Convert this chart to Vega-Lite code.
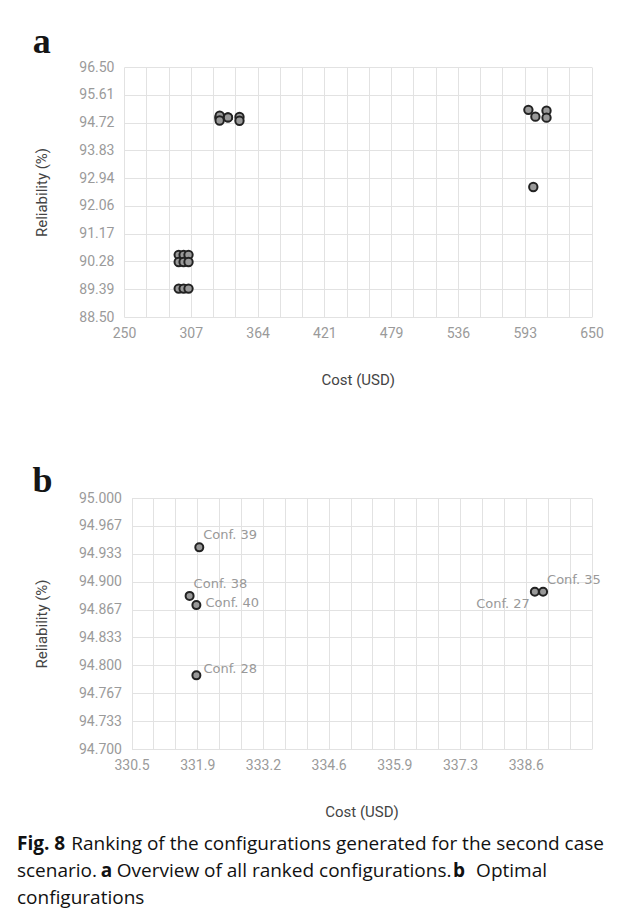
{
  "$schema": "https://vega.github.io/schema/vega-lite/v6.json",
  "background": "white",
  "padding": {"left": 16, "top": 24, "right": 5, "bottom": 5},
  "datasets": {
    "all": [
      {"cost": 296.8, "reliability": 90.49},
      {"cost": 301.0, "reliability": 90.49},
      {"cost": 305.2, "reliability": 90.49},
      {"cost": 296.8, "reliability": 90.26},
      {"cost": 301.0, "reliability": 90.26},
      {"cost": 305.2, "reliability": 90.26},
      {"cost": 296.8, "reliability": 89.41},
      {"cost": 301.0, "reliability": 89.41},
      {"cost": 305.2, "reliability": 89.41},
      {"cost": 331.70, "reliability": 94.883},
      {"cost": 331.84, "reliability": 94.872},
      {"cost": 331.90, "reliability": 94.941},
      {"cost": 331.84, "reliability": 94.788},
      {"cost": 338.83, "reliability": 94.888},
      {"cost": 339.00, "reliability": 94.888},
      {"cost": 348.8, "reliability": 94.90},
      {"cost": 348.8, "reliability": 94.78},
      {"cost": 596.0, "reliability": 95.13},
      {"cost": 602.0, "reliability": 94.91},
      {"cost": 611.5, "reliability": 95.10},
      {"cost": 611.5, "reliability": 94.88},
      {"cost": 600.2, "reliability": 92.66}
    ],
    "optimal": [
      {"label": "Conf. 39", "cost": 331.90, "reliability": 94.941},
      {"label": "Conf. 38", "cost": 331.70, "reliability": 94.883},
      {"label": "Conf. 40", "cost": 331.84, "reliability": 94.872},
      {"label": "Conf. 28", "cost": 331.84, "reliability": 94.788},
      {"label": "Conf. 27", "cost": 338.83, "reliability": 94.888},
      {"label": "Conf. 35", "cost": 339.00, "reliability": 94.888}
    ]
  },
  "title": {
    "text": ["Fig. 8", "\u200b\u00a0\u00a0\u00a0\u00a0\u00a0\u00a0\u00a0\u00a0\u00a0\u00a0\u00a0\u00a0\u00a0\u00a0\u00a0\u00a0\u00a0a\u00a0\u00a0\u00a0\u00a0\u00a0\u00a0\u00a0\u00a0\u00a0\u00a0\u00a0\u00a0\u00a0\u00a0\u00a0\u00a0\u00a0\u00a0\u00a0\u00a0\u00a0\u00a0\u00a0\u00a0\u00a0\u00a0\u00a0\u00a0\u00a0\u00a0\u00a0\u00a0\u00a0\u00a0\u00a0\u00a0\u00a0\u00a0\u00a0\u00a0\u00a0\u00a0\u00a0\u00a0\u00a0\u00a0\u00a0\u00a0\u00a0\u00a0\u00a0\u00a0\u00a0\u00a0\u00a0\u00a0\u00a0\u00a0\u00a0\u00a0\u00a0\u00a0\u00a0\u00a0\u00a0\u00a0\u00a0\u00a0\u00a0b"],
    "subtitle": ["\u200b\u00a0\u00a0\u00a0\u00a0\u00a0\u00a0\u00a0\u00a0\u00a0\u00a0\u00a0Ranking of the configurations generated for the second case", "scenario.\u00a0\u00a0\u00a0\u00a0Overview of all ranked configurations.\u00a0\u00a0\u00a0\u00a0\u00a0Optimal", "configurations"],
    "orient": "bottom",
    "anchor": "start",
    "frame": "bounds",
    "font": "Open Sans",
    "fontSize": 19,
    "fontWeight": "bold",
    "color": "#111111",
    "lineHeight": 27,
    "subtitleFont": "Open Sans",
    "subtitleFontSize": 19,
    "subtitleFontWeight": "normal",
    "subtitleColor": "#111111",
    "subtitleLineHeight": 27,
    "subtitlePadding": -46,
    "offset": 16,
    "dx": -15.5
  },
  "concat": [
    {
      "title": {"text": "a", "anchor": "start", "frame": "bounds", "font": "Liberation Serif", "fontSize": 36, "fontWeight": "bold", "color": "#151515", "baseline": "alphabetic", "offset": -29, "dx": -2},
      "width": 467.5,
      "height": 250,
      "data": {"name": "all"},
      "mark": {"type": "circle", "size": 70, "fill": "#999999", "stroke": "#222222", "strokeWidth": 2, "opacity": 1},
      "encoding": {
        "x": {
          "field": "cost", "type": "quantitative",
          "scale": {"domain": [250, 650], "nice": false, "zero": false},
          "axis": {
            "title": "Cost (USD)",
            "values": [250, 269.0476, 288.0952, 307.1429, 326.1905, 345.2381, 364.2857, 383.3333, 402.381, 421.4286, 440.4762, 459.5238, 478.5714, 497.619, 516.6667, 535.7143, 554.7619, 573.8095, 592.8571, 611.9048, 630.9524, 650],
            "labelExpr": "abs((datum.value - 250) / 57.142857 - round((datum.value - 250) / 57.142857)) < 0.01 ? format(datum.value, '.0f') : ''",
            "titlePadding": 32
          }
        },
        "y": {
          "field": "reliability", "type": "quantitative",
          "scale": {"domain": [88.5, 96.5], "nice": false, "zero": false},
          "axis": {
            "title": "Reliability (%)",
            "values": [88.5, 89.3889, 90.2778, 91.1667, 92.0556, 92.9444, 93.8333, 94.7222, 95.6111, 96.5],
            "format": ".2f"
          }
        }
      }
    },
    {
      "title": {"text": "b", "anchor": "start", "frame": "bounds", "font": "Liberation Serif", "fontSize": 36, "fontWeight": "bold", "color": "#151515", "baseline": "alphabetic", "offset": -37, "dx": -2},
      "width": 467.5,
      "height": 251,
      "data": {"name": "optimal"},
      "encoding": {
        "x": {
          "field": "cost", "type": "quantitative",
          "scale": {"domain": [330.5, 340], "nice": false, "zero": false, "range": [7.5, 467.5]},
          "axis": {
            "title": "Cost (USD)",
            "values": [330.5, 330.9524, 331.4048, 331.8571, 332.3095, 332.7619, 333.2143, 333.6667, 334.119, 334.5714, 335.0238, 335.4762, 335.9286, 336.381, 336.8333, 337.2857, 337.7381, 338.1905, 338.6429, 339.0952, 339.5476, 340],
            "labelExpr": "datum.value < 339.9 && abs((datum.value - 330.5) / 1.357143 - round((datum.value - 330.5) / 1.357143)) < 0.01 ? format(datum.value, '.1f') : ''",
            "titlePadding": 32
          }
        },
        "y": {
          "field": "reliability", "type": "quantitative",
          "scale": {"domain": [94.7, 95.0], "nice": false, "zero": false},
          "axis": {
            "title": "Reliability (%)",
            "values": [94.7, 94.7333, 94.7667, 94.8, 94.8333, 94.8667, 94.9, 94.9333, 94.9667, 95.0],
            "format": ".3f",
            "offset": -7.5
          }
        }
      },
      "layer": [
        {"mark": {"type": "circle", "size": 64, "fill": "#999999", "stroke": "#222222", "strokeWidth": 2, "opacity": 1}},
        {
          "transform": [{"filter": "datum.label == 'Conf. 39' || datum.label == 'Conf. 38' || datum.label == 'Conf. 35'"}],
          "mark": {"type": "text", "font": "DejaVu Sans", "fontSize": 13, "fill": "#999999", "align": "left", "baseline": "alphabetic", "dx": 4, "dy": -8},
          "encoding": {"text": {"field": "label"}}
        },
        {
          "transform": [{"filter": "datum.label == 'Conf. 28'"}],
          "mark": {"type": "text", "font": "DejaVu Sans", "fontSize": 13, "fill": "#999999", "align": "left", "baseline": "alphabetic", "dx": 7, "dy": -2},
          "encoding": {"text": {"field": "label"}}
        },
        {
          "transform": [{"filter": "datum.label == 'Conf. 40'"}],
          "mark": {"type": "text", "font": "DejaVu Sans", "fontSize": 13, "fill": "#999999", "align": "left", "baseline": "alphabetic", "dx": 9, "dy": 2},
          "encoding": {"text": {"field": "label"}}
        },
        {
          "transform": [{"filter": "datum.label == 'Conf. 27'"}],
          "mark": {"type": "text", "font": "DejaVu Sans", "fontSize": 13, "fill": "#999999", "align": "right", "baseline": "alphabetic", "dx": -5, "dy": 16},
          "encoding": {"text": {"field": "label"}}
        }
      ]
    }
  ],
  "columns": 1,
  "spacing": 76,
  "config": {
    "view": {"stroke": null},
    "axis": {
      "domain": false,
      "ticks": false,
      "grid": true,
      "gridColor": "#e2e2e2",
      "gridWidth": 1,
      "labelFont": "Roboto",
      "labelFontSize": 14,
      "labelColor": "#9a9a9a",
      "labelPadding": 10,
      "labelOverlap": false,
      "labelFlush": false,
      "titleFont": "Roboto",
      "titleFontSize": 15,
      "titleFontWeight": "normal",
      "titleColor": "#444444"
    },
    "axisY": {"titlePadding": 29},
    "axisX": {"labelPadding": 9}
  }
}
